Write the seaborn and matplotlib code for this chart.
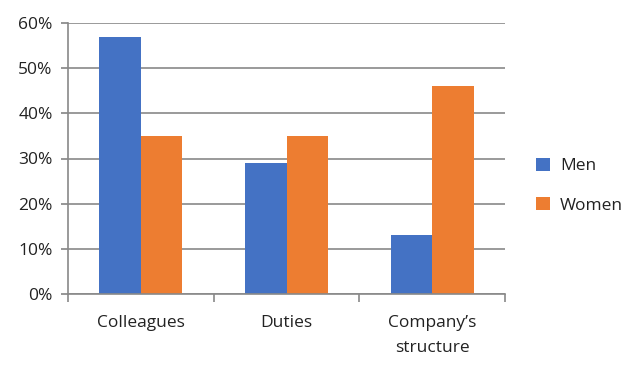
import pandas as pd
import matplotlib.pyplot as plt
import seaborn as sns
from matplotlib.ticker import PercentFormatter, FixedLocator

categories = ["Colleagues", "Duties", "Company\u2019s\nstructure"]
men = [57, 29, 13]
women = [35, 35, 46]
series = ["Men", "Women"]
colors = ["#4472C4", "#ED7D31"]

df = pd.DataFrame({
    "category": categories * 2,
    "group": ["Men"] * 3 + ["Women"] * 3,
    "value": men + women,
})

sns.set_theme(style="white")
plt.rcParams["font.family"] = ["Open Sans", "DejaVu Sans"]
grid_col = "#898989"

fig = plt.figure(figsize=(6.44, 3.72), dpi=100)
ax = fig.add_axes([68 / 644, 1 - 294 / 372, (505 - 68) / 644, (294 - 23) / 372])

sns.barplot(data=df, x="category", y="value", hue="group", palette=colors,
            width=0.57, saturation=1, linewidth=0, ax=ax, legend=True)

ax.set_ylim(0, 60)
ax.set_xlim(-0.5, 2.5)
ax.set_yticks(range(0, 61, 10))
ax.yaxis.set_major_formatter(PercentFormatter(decimals=0))
ax.yaxis.grid(True, color=grid_col, linewidth=1.2)
ax.set_axisbelow(True)
ax.set_xlabel("")
ax.set_ylabel("")

for s in ["top", "right"]:
    ax.spines[s].set_visible(False)
for s in ["left", "bottom"]:
    ax.spines[s].set_color(grid_col)
    ax.spines[s].set_linewidth(1.2)

ax.tick_params(axis="y", which="major", left=True, length=5, color=grid_col,
               labelsize=12.5, labelcolor="#222222", pad=6)
ax.tick_params(axis="x", which="major", bottom=False, labelsize=12.5,
               labelcolor="#222222", pad=9)
for lab in ax.get_xticklabels():
    lab.set_linespacing(1.75)
ax.xaxis.set_minor_locator(FixedLocator([-0.5, 0.5, 1.5, 2.5]))
ax.tick_params(axis="x", which="minor", bottom=True, length=6, color=grid_col, width=1.2)

leg = ax.legend(loc="center left", bbox_to_anchor=(1.035, 0.4), frameon=False,
                fontsize=12.5, handlelength=0.8, handleheight=0.8,
                labelspacing=1.3, handletextpad=0.6)
for t in leg.get_texts():
    t.set_color("#222222")

fig.savefig("out.png", dpi=100)
